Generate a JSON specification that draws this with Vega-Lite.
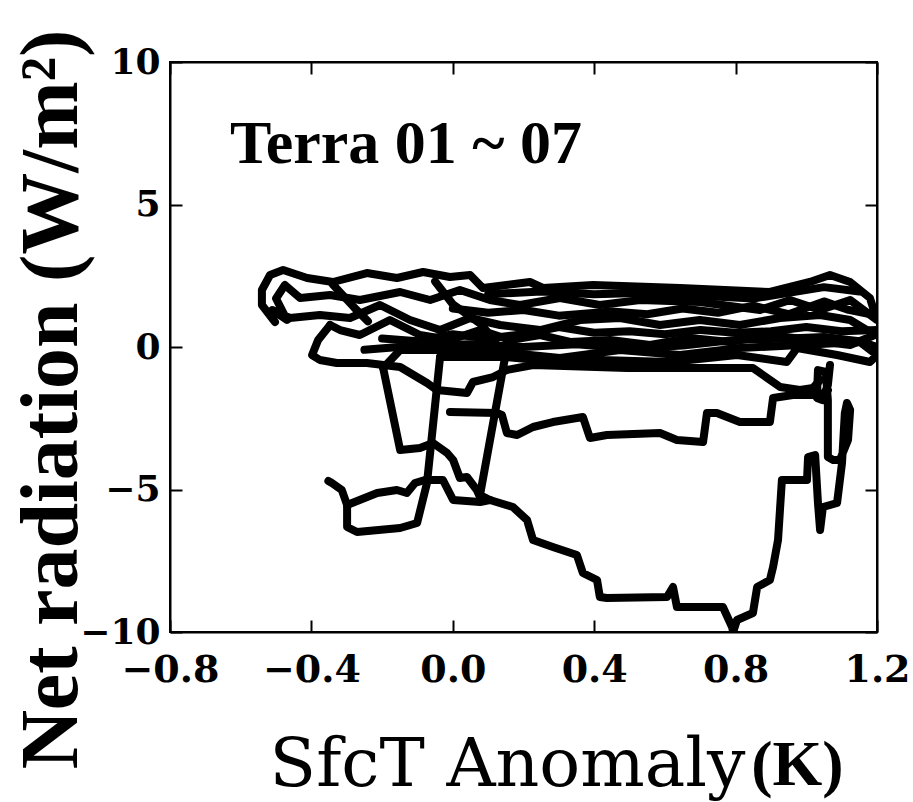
{
  "$schema": "https://vega.github.io/schema/vega-lite/v6.json",
  "width": 707,
  "height": 570,
  "autosize": {"type": "none"},
  "padding": {"left": 170, "top": 62, "right": 36, "bottom": 170},
  "background": "white",
  "config": {"view": {"stroke": "black", "strokeWidth": 2}, "axis": {"grid": false}},
  "datasets": {
    "traj": [
      {"seg":"a","i":0,"sfct":-0.008,"net":-2.281},{"seg":"a","i":1,"sfct":0.125,"net":-2.316},{"seg":"a","i":2,"sfct":0.139,"net":-2.386},{"seg":"a","i":3,"sfct":0.153,"net":-3.018},{"seg":"a","i":4,"sfct":0.182,"net":-3.088},{"seg":"a","i":5,"sfct":0.227,"net":-2.807},{"seg":"a","i":6,"sfct":0.283,"net":-2.632},{"seg":"a","i":7,"sfct":0.368,"net":-2.456},{"seg":"a","i":8,"sfct":0.388,"net":-3.193},{"seg":"a","i":9,"sfct":0.436,"net":-3.088},{"seg":"a","i":10,"sfct":0.586,"net":-3.018},{"seg":"a","i":11,"sfct":0.634,"net":-3.263},{"seg":"a","i":12,"sfct":0.708,"net":-3.333},{"seg":"a","i":13,"sfct":0.719,"net":-2.316},{"seg":"a","i":14,"sfct":0.747,"net":-2.316},{"seg":"a","i":15,"sfct":0.812,"net":-2.632},{"seg":"a","i":16,"sfct":0.897,"net":-2.632},{"seg":"a","i":17,"sfct":0.906,"net":-1.789},{"seg":"a","i":18,"sfct":0.962,"net":-1.684},{"seg":"a","i":19,"sfct":1.039,"net":-1.684},{"seg":"a","i":20,"sfct":1.061,"net":-1.509},
      {"seg":"b","i":0,"sfct":0.148,"net":-0.351},{"seg":"b","i":1,"sfct":0.077,"net":-5.193},{"seg":"b","i":2,"sfct":0.105,"net":-5.368},{"seg":"b","i":3,"sfct":0.170,"net":-5.614},{"seg":"b","i":4,"sfct":0.210,"net":-6.070},{"seg":"b","i":5,"sfct":0.227,"net":-6.772},{"seg":"b","i":6,"sfct":0.283,"net":-7.018},{"seg":"b","i":7,"sfct":0.351,"net":-7.298},{"seg":"b","i":8,"sfct":0.368,"net":-7.930},{"seg":"b","i":9,"sfct":0.408,"net":-8.175},{"seg":"b","i":10,"sfct":0.416,"net":-8.772},{"seg":"b","i":11,"sfct":0.436,"net":-8.807},{"seg":"b","i":12,"sfct":0.606,"net":-8.772},{"seg":"b","i":13,"sfct":0.623,"net":-8.421},{"seg":"b","i":14,"sfct":0.634,"net":-9.123},{"seg":"b","i":15,"sfct":0.764,"net":-9.123},{"seg":"b","i":16,"sfct":0.790,"net":-9.825},{"seg":"b","i":17,"sfct":0.793,"net":-10.0},{"seg":"b","i":18,"sfct":0.804,"net":-9.579},{"seg":"b","i":19,"sfct":0.849,"net":-9.333},{"seg":"b","i":20,"sfct":0.861,"net":-8.421},{"seg":"b","i":21,"sfct":0.897,"net":-8.175},{"seg":"b","i":22,"sfct":0.906,"net":-7.719},{"seg":"b","i":23,"sfct":0.920,"net":-6.772},{"seg":"b","i":24,"sfct":0.931,"net":-4.667},{"seg":"b","i":25,"sfct":1.002,"net":-4.667},{"seg":"b","i":26,"sfct":1.005,"net":-3.860},{"seg":"b","i":27,"sfct":1.025,"net":-3.789},{"seg":"b","i":28,"sfct":1.033,"net":-5.474},{"seg":"b","i":29,"sfct":1.039,"net":-6.421},{"seg":"b","i":30,"sfct":1.047,"net":-5.614},{"seg":"b","i":31,"sfct":1.087,"net":-5.474},{"seg":"b","i":32,"sfct":1.101,"net":-4.070},{"seg":"b","i":33,"sfct":1.109,"net":-2.316},{"seg":"b","i":34,"sfct":1.115,"net":-1.965},{"seg":"b","i":35,"sfct":1.124,"net":-2.211},{"seg":"b","i":36,"sfct":1.118,"net":-3.263},{"seg":"b","i":37,"sfct":1.095,"net":-3.965},{"seg":"b","i":38,"sfct":1.076,"net":-3.965},{"seg":"b","i":39,"sfct":1.061,"net":-3.860},{"seg":"b","i":40,"sfct":1.061,"net":-1.860},{"seg":"b","i":41,"sfct":1.055,"net":-0.877},{"seg":"b","i":42,"sfct":1.033,"net":-0.807},{"seg":"b","i":43,"sfct":1.030,"net":-1.789},{"seg":"b","i":44,"sfct":1.045,"net":-1.860},{"seg":"b","i":45,"sfct":1.061,"net":-1.333},{"seg":"b","i":46,"sfct":1.067,"net":-0.632},
      {"seg":"c","i":0,"sfct":-0.197,"net":-0.737},{"seg":"c","i":1,"sfct":-0.149,"net":-3.614},{"seg":"c","i":2,"sfct":-0.093,"net":-3.544},{"seg":"c","i":3,"sfct":-0.056,"net":-3.368},{"seg":"c","i":4,"sfct":-0.016,"net":-3.719},{"seg":"c","i":5,"sfct":0.001,"net":-3.965},{"seg":"c","i":6,"sfct":0.020,"net":-4.596},{"seg":"c","i":7,"sfct":0.040,"net":-4.561},{"seg":"c","i":8,"sfct":0.068,"net":-5.018},{"seg":"c","i":9,"sfct":0.077,"net":-5.263},
      {"seg":"d","i":0,"sfct":-0.036,"net":-0.351},{"seg":"d","i":1,"sfct":-0.073,"net":-4.772},{"seg":"d","i":2,"sfct":-0.101,"net":-6.175},{"seg":"d","i":3,"sfct":-0.149,"net":-6.351},{"seg":"d","i":4,"sfct":-0.271,"net":-6.491},{"seg":"d","i":5,"sfct":-0.299,"net":-6.316},{"seg":"d","i":6,"sfct":-0.299,"net":-5.544},{"seg":"d","i":7,"sfct":-0.314,"net":-5.018},{"seg":"d","i":8,"sfct":-0.342,"net":-4.772},{"seg":"d","i":9,"sfct":-0.352,"net":-4.700},
      {"seg":"e","i":0,"sfct":-0.299,"net":-5.544},{"seg":"e","i":1,"sfct":-0.214,"net":-5.123},{"seg":"e","i":2,"sfct":-0.158,"net":-5.018},{"seg":"e","i":3,"sfct":-0.130,"net":-5.123},{"seg":"e","i":4,"sfct":-0.107,"net":-4.772},{"seg":"e","i":5,"sfct":-0.079,"net":-4.667},{"seg":"e","i":6,"sfct":-0.028,"net":-4.667},{"seg":"e","i":7,"sfct":0.001,"net":-5.368},{"seg":"e","i":8,"sfct":0.077,"net":-5.439},{"seg":"e","i":9,"sfct":0.105,"net":-5.368},
      {"seg":"g","i":0,"sfct":-0.347,"net":0.772},{"seg":"g","i":1,"sfct":-0.381,"net":0.246},{"seg":"g","i":2,"sfct":-0.398,"net":-0.281},{"seg":"g","i":3,"sfct":-0.376,"net":-0.456},{"seg":"g","i":4,"sfct":-0.328,"net":-0.561},{"seg":"g","i":5,"sfct":-0.243,"net":-0.561},{"seg":"g","i":6,"sfct":-0.149,"net":-0.702},{"seg":"g","i":7,"sfct":-0.073,"net":-1.263},{"seg":"g","i":8,"sfct":-0.045,"net":-1.509},{"seg":"g","i":9,"sfct":0.040,"net":-1.614},{"seg":"g","i":10,"sfct":0.057,"net":-1.228},{"seg":"g","i":11,"sfct":0.114,"net":-1.053},{"seg":"g","i":12,"sfct":0.153,"net":-0.807},{"seg":"g","i":13,"sfct":0.227,"net":-0.632},{"seg":"g","i":14,"sfct":0.493,"net":-0.737},{"seg":"g","i":15,"sfct":0.849,"net":-0.737},{"seg":"g","i":16,"sfct":0.926,"net":-1.404},{"seg":"g","i":17,"sfct":0.982,"net":-1.509},{"seg":"g","i":18,"sfct":1.019,"net":-1.439},{"seg":"g","i":19,"sfct":1.039,"net":-1.158},
      {"seg":"h","i":0,"sfct":-0.503,"net":0.877},{"seg":"h","i":1,"sfct":-0.540,"net":1.474},{"seg":"h","i":2,"sfct":-0.540,"net":2.000},{"seg":"h","i":3,"sfct":-0.517,"net":2.526},{"seg":"h","i":4,"sfct":-0.480,"net":2.702},{"seg":"h","i":5,"sfct":-0.412,"net":2.421},{"seg":"h","i":6,"sfct":-0.339,"net":2.281},{"seg":"h","i":7,"sfct":-0.243,"net":2.596},{"seg":"h","i":8,"sfct":-0.158,"net":2.421},{"seg":"h","i":9,"sfct":-0.084,"net":2.632},{"seg":"h","i":10,"sfct":-0.008,"net":2.456},{"seg":"h","i":11,"sfct":0.049,"net":2.526},{"seg":"h","i":12,"sfct":0.085,"net":2.070},{"seg":"h","i":13,"sfct":0.218,"net":2.281},{"seg":"h","i":14,"sfct":0.255,"net":2.070},{"seg":"h","i":15,"sfct":0.397,"net":2.175},{"seg":"h","i":16,"sfct":0.643,"net":2.070},{"seg":"h","i":17,"sfct":0.897,"net":1.930},{"seg":"h","i":18,"sfct":1.010,"net":2.281},{"seg":"h","i":19,"sfct":1.067,"net":2.526},{"seg":"h","i":20,"sfct":1.124,"net":2.281},{"seg":"h","i":21,"sfct":1.180,"net":1.719},{"seg":"h","i":22,"sfct":1.200,"net":0.947},
      {"seg":"h","i":23,"sfct":1.124,"net":1.649},{"seg":"h","i":24,"sfct":1.039,"net":1.298},{"seg":"h","i":25,"sfct":0.954,"net":1.649},{"seg":"h","i":26,"sfct":0.869,"net":1.298},{"seg":"h","i":27,"sfct":0.699,"net":1.579},{"seg":"h","i":28,"sfct":0.530,"net":1.649},{"seg":"h","i":29,"sfct":0.416,"net":1.474},{"seg":"h","i":30,"sfct":0.303,"net":1.719},{"seg":"h","i":31,"sfct":0.190,"net":1.474},{"seg":"h","i":32,"sfct":0.105,"net":1.649},{"seg":"h","i":33,"sfct":0.020,"net":2.000},{"seg":"h","i":34,"sfct":-0.064,"net":1.649},{"seg":"h","i":35,"sfct":-0.149,"net":1.930},{"seg":"h","i":36,"sfct":-0.263,"net":1.649},{"seg":"h","i":37,"sfct":-0.347,"net":1.825},{"seg":"h","i":38,"sfct":-0.432,"net":1.719},{"seg":"h","i":39,"sfct":-0.475,"net":2.175},{"seg":"h","i":40,"sfct":-0.500,"net":1.700},{"seg":"h","i":41,"sfct":-0.469,"net":0.947},{"seg":"h","i":42,"sfct":-0.511,"net":1.298},
      {"seg":"h","i":43,"sfct":-0.461,"net":1.018},{"seg":"h","i":44,"sfct":-0.376,"net":1.123},{"seg":"h","i":45,"sfct":-0.291,"net":1.018},{"seg":"h","i":46,"sfct":-0.206,"net":1.474},{"seg":"h","i":47,"sfct":-0.121,"net":0.947},{"seg":"h","i":48,"sfct":-0.036,"net":0.596},{"seg":"h","i":49,"sfct":0.049,"net":1.018},{"seg":"h","i":50,"sfct":0.134,"net":0.772},{"seg":"h","i":51,"sfct":0.247,"net":0.596},{"seg":"h","i":52,"sfct":0.360,"net":0.947},{"seg":"h","i":53,"sfct":0.473,"net":1.018},{"seg":"h","i":54,"sfct":0.586,"net":0.772},{"seg":"h","i":55,"sfct":0.699,"net":0.947},{"seg":"h","i":56,"sfct":0.812,"net":0.772},{"seg":"h","i":57,"sfct":0.926,"net":1.018},{"seg":"h","i":58,"sfct":1.039,"net":1.123},{"seg":"h","i":59,"sfct":1.124,"net":0.947},{"seg":"h","i":60,"sfct":1.194,"net":0.421},
      {"seg":"h","i":61,"sfct":1.124,"net":0.070},{"seg":"h","i":62,"sfct":1.010,"net":0.246},{"seg":"h","i":63,"sfct":0.897,"net":0.421},{"seg":"h","i":64,"sfct":0.784,"net":0.175},{"seg":"h","i":65,"sfct":0.671,"net":0.316},{"seg":"h","i":66,"sfct":0.558,"net":0.070},{"seg":"h","i":67,"sfct":0.445,"net":0.246},{"seg":"h","i":68,"sfct":0.332,"net":0.175},{"seg":"h","i":69,"sfct":0.247,"net":0.421},{"seg":"h","i":70,"sfct":0.162,"net":0.246},{"seg":"h","i":71,"sfct":0.077,"net":0.596},{"seg":"h","i":72,"sfct":-0.008,"net":0.246},{"seg":"h","i":73,"sfct":-0.093,"net":0.421},{"seg":"h","i":74,"sfct":-0.178,"net":0.947},{"seg":"h","i":75,"sfct":-0.263,"net":0.421},{"seg":"h","i":76,"sfct":-0.319,"net":0.596},{"seg":"h","i":77,"sfct":-0.347,"net":0.772},
      {"seg":"k","i":0,"sfct":-0.197,"net":-0.737},{"seg":"k","i":1,"sfct":-0.149,"net":-0.105},{"seg":"k","i":2,"sfct":-0.008,"net":-0.105},{"seg":"k","i":3,"sfct":0.134,"net":-0.175},{"seg":"k","i":4,"sfct":0.303,"net":-0.386},{"seg":"k","i":5,"sfct":0.473,"net":-0.105},{"seg":"k","i":6,"sfct":0.643,"net":-0.281},{"seg":"k","i":7,"sfct":0.812,"net":-0.035},{"seg":"k","i":8,"sfct":0.982,"net":0.070},{"seg":"k","i":9,"sfct":1.152,"net":0.175},{"seg":"k","i":10,"sfct":1.200,"net":-0.281},{"seg":"k","i":11,"sfct":1.180,"net":-0.526},{"seg":"k","i":12,"sfct":1.087,"net":-0.281},{"seg":"k","i":13,"sfct":0.974,"net":-0.035},{"seg":"k","i":14,"sfct":0.945,"net":-0.526},{"seg":"k","i":15,"sfct":0.804,"net":-0.281},{"seg":"k","i":16,"sfct":0.614,"net":-0.526},{"seg":"k","i":17,"sfct":0.416,"net":-0.456},{"seg":"k","i":18,"sfct":0.303,"net":-0.526},{"seg":"k","i":19,"sfct":0.148,"net":-0.351},{"seg":"k","i":20,"sfct":-0.036,"net":-0.351},
      {"seg":"m","i":0,"sfct":0.0,"net":1.35},{"seg":"m","i":1,"sfct":0.1,"net":1.2},{"seg":"m","i":2,"sfct":0.2,"net":1.3},{"seg":"m","i":3,"sfct":0.3,"net":1.1},{"seg":"m","i":4,"sfct":0.45,"net":1.25},{"seg":"m","i":5,"sfct":0.55,"net":1.15},{"seg":"m","i":6,"sfct":0.65,"net":1.35},{"seg":"m","i":7,"sfct":0.75,"net":1.2},{"seg":"m","i":8,"sfct":0.85,"net":1.45},{"seg":"m","i":9,"sfct":0.95,"net":1.15},{"seg":"m","i":10,"sfct":1.05,"net":1.6},{"seg":"m","i":11,"sfct":1.12,"net":1.3},{"seg":"m","i":12,"sfct":1.2,"net":1.1},
      {"seg":"n","i":0,"sfct":1.2,"net":0.6},{"seg":"n","i":1,"sfct":1.1,"net":0.55},{"seg":"n","i":2,"sfct":1.0,"net":0.7},{"seg":"n","i":3,"sfct":0.9,"net":0.55},{"seg":"n","i":4,"sfct":0.8,"net":0.5},{"seg":"n","i":5,"sfct":0.7,"net":0.6},{"seg":"n","i":6,"sfct":0.6,"net":0.45},{"seg":"n","i":7,"sfct":0.5,"net":0.55},{"seg":"n","i":8,"sfct":0.4,"net":0.5},{"seg":"n","i":9,"sfct":0.3,"net":0.7},{"seg":"n","i":10,"sfct":0.2,"net":0.45},{"seg":"n","i":11,"sfct":0.1,"net":0.3},{"seg":"n","i":12,"sfct":0.0,"net":0.45},{"seg":"n","i":13,"sfct":-0.1,"net":0.2},{"seg":"n","i":14,"sfct":-0.2,"net":0.3},
      {"seg":"p","i":0,"sfct":-0.25,"net":-0.1},{"seg":"p","i":1,"sfct":-0.1,"net":0.05},{"seg":"p","i":2,"sfct":0.05,"net":0.1},{"seg":"p","i":3,"sfct":0.2,"net":0.0},{"seg":"p","i":4,"sfct":0.35,"net":0.1},{"seg":"p","i":5,"sfct":0.5,"net":-0.05},{"seg":"p","i":6,"sfct":0.65,"net":0.05},{"seg":"p","i":7,"sfct":0.8,"net":0.25},{"seg":"p","i":8,"sfct":0.95,"net":0.3},{"seg":"p","i":9,"sfct":1.05,"net":0.35},{"seg":"p","i":10,"sfct":1.15,"net":0.2},{"seg":"p","i":11,"sfct":1.2,"net":0.0},
      {"seg":"q","i":0,"sfct":0.1,"net":1.85},{"seg":"q","i":1,"sfct":0.25,"net":1.95},{"seg":"q","i":2,"sfct":0.4,"net":1.85},{"seg":"q","i":3,"sfct":0.55,"net":1.9},{"seg":"q","i":4,"sfct":0.7,"net":1.8},{"seg":"q","i":5,"sfct":0.85,"net":1.7},{"seg":"q","i":6,"sfct":0.95,"net":1.9},{"seg":"q","i":7,"sfct":1.05,"net":2.1},{"seg":"q","i":8,"sfct":1.15,"net":1.95},
      {"seg":"r","i":0,"sfct":-0.34,"net":2.2},{"seg":"r","i":1,"sfct":-0.28,"net":1.4},{"seg":"r","i":2,"sfct":-0.24,"net":0.9},
      {"seg":"s","i":0,"sfct":-0.05,"net":2.3},{"seg":"s","i":1,"sfct":0.0,"net":1.5},{"seg":"s","i":2,"sfct":0.08,"net":0.8},{"seg":"s","i":3,"sfct":0.12,"net":0.2}
    ],
    "ann": [
      {"label": "Terra 01 ~ 07", "sfct": -0.63, "net": 6.46}
    ],
    "unit": [
      {"label": "(K)", "sfct": 0.844, "net": -15.37}
    ]
  },
  "resolve": {"axis": {"x": "independent", "y": "independent"}},
  "layer": [
    {
      "data": {"name": "traj"},
      "mark": {"type": "line", "color": "black", "strokeWidth": 8, "strokeJoin": "round", "strokeCap": "round", "clip": true},
      "encoding": {
        "x": {"field": "sfct", "type": "quantitative", "scale": {"domain": [-0.8, 1.2], "nice": false, "zero": false},
          "axis": {"orient": "bottom", "values": [-0.8, -0.4, 0, 0.4, 0.8, 1.2], "format": ".1f", "tickSize": -12, "tickWidth": 2, "tickColor": "black", "domainColor": "black", "domainWidth": 2,
            "labelFont": "DejaVu Serif", "labelFontSize": 38, "labelFontWeight": "bold", "labelColor": "black", "labelPadding": 31, "labelFlush": false, "labelOverlap": false,
            "title": "SfcT Anomaly", "titleFont": "DejaVu Serif", "titleFontSize": 68, "titleFontWeight": "normal", "titleColor": "black", "titleX": 337, "titleY": 153, "titleBaseline": "alphabetic", "titleAnchor": null}},
        "y": {"field": "net", "type": "quantitative", "scale": {"domain": [-10, 10], "nice": false, "zero": false},
          "axis": {"orient": "left", "values": [-10, -5, 0, 5, 10], "format": "d", "tickSize": -12, "tickWidth": 2, "tickColor": "black", "domainColor": "black", "domainWidth": 2,
            "labelFont": "DejaVu Serif", "labelFontSize": 36, "labelFontWeight": "bold", "labelColor": "black", "labelPadding": 22, "labelFlush": false, "labelOverlap": false,
            "title": "Net  radiation (W/m²)", "titleFont": "Liberation Serif", "titleFontSize": 82, "titleFontWeight": "bold", "titleColor": "black", "titleX": -94, "titleY": 337, "titleAngle": 270, "titleAlign": "center", "titleBaseline": "alphabetic", "titleAnchor": null}},
        "detail": {"field": "seg"},
        "order": {"field": "i", "type": "quantitative"}
      }
    },
    {
      "data": {"name": "traj"},
      "mark": {"type": "point", "opacity": 0},
      "encoding": {
        "x": {"field": "sfct", "type": "quantitative", "axis": {"orient": "top", "values": [-0.8, -0.4, 0, 0.4, 0.8, 1.2], "labels": false, "title": null, "tickSize": -12, "tickWidth": 2, "tickColor": "black", "domainColor": "black", "domainWidth": 2}},
        "y": {"field": "net", "type": "quantitative", "axis": {"orient": "right", "values": [-10, -5, 0, 5, 10], "labels": false, "title": null, "tickSize": -12, "tickWidth": 2, "tickColor": "black", "domainColor": "black", "domainWidth": 2}}
      }
    },
    {
      "data": {"name": "ann"},
      "mark": {"type": "text", "align": "left", "baseline": "alphabetic", "font": "Liberation Serif", "fontSize": 62, "fontWeight": "bold", "color": "black"},
      "encoding": {
        "x": {"field": "sfct", "type": "quantitative", "axis": null},
        "y": {"field": "net", "type": "quantitative", "axis": null},
        "text": {"field": "label"}
      }
    },
    {
      "data": {"name": "unit"},
      "mark": {"type": "text", "align": "left", "baseline": "alphabetic", "font": "Liberation Serif", "fontSize": 64, "fontWeight": "bold", "color": "black"},
      "encoding": {
        "x": {"field": "sfct", "type": "quantitative", "axis": null},
        "y": {"field": "net", "type": "quantitative", "axis": null},
        "text": {"field": "label"}
      }
    }
  ]
}
